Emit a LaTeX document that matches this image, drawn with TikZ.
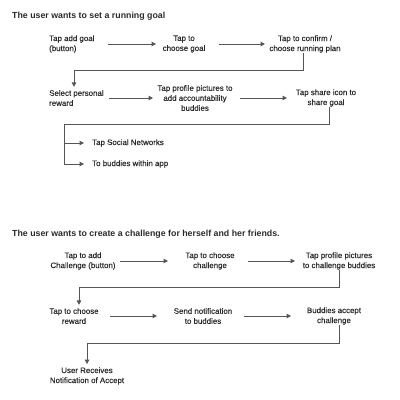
\documentclass[tikz,border=0pt]{standalone}
\usepackage{fontspec}
\setmainfont{Liberation Sans}
\newfontfamily\medfont{Liberation Sans}[FakeBold=0.35]
\usetikzlibrary{arrows.meta}
\definecolor{txt}{HTML}{2A2A2A}
\definecolor{ln}{HTML}{555555}
\tikzset{
  lbl/.style={inner sep=0pt, text=txt, font=\medfont\fontsize{7.9}{10}\selectfont, align=center},
  lbll/.style={lbl, align=left, anchor=west},
  ttl/.style={inner sep=0pt, text=txt, font=\fontsize{8.8}{10}\selectfont\bfseries, anchor=base west},
  ln/.style={draw=ln, line width=1pt},
  arr/.style={ln, -{Triangle[length=4.5pt,width=4.5pt]}},
}
\begin{document}
\begin{tikzpicture}[x=1pt,y=-1pt]
\useasboundingbox (0,0) rectangle (400,400);
% Section 1
\node[ttl] (t1) at (12,18) {The user wants to set a running goal};
\node[lbll] (a1) at (49,44) {Tap add goal\\(button)};
\node[lbl] (a2) at (184,44) {Tap to\\choose goal};
\node[lbl] (a3) at (305,44) {Tap to confirm /\\choose running plan};
\node[lbll] (b1) at (49,98) {Select personal\\reward};
\node[lbl] (b2) at (195,98) {Tap profile pictures to\\add accountability\\buddies};
\node[lbl] (b3) at (326,98) {Tap share icon to\\share goal};
\node[lbll] (c1) at (92,143) {Tap Social Networks};
\node[lbll] (c2) at (92,164) {To buddies within app};
\draw[arr] (a1.east -| 108,0) -- (a2.west -| 156,0);
\draw[arr] (a2.east -| 219,0) -- (a3.west -| 265,0);
\draw[arr] (a3.south -| 303,0) -- (303,70) -| ([yshift=3pt]b1.north -| 74,0);
\draw[arr] (b1.east -| 109,0) -- (b2.west -| 153,0);
\draw[arr] (b2.east -| 240,0) -- (b3.west -| 287,0);
\draw[ln] (b3.south -| 329,0) -- (329,124) -| (64,164);
\draw[arr] (c1.west -| 64,0) -- (c1.west -| 84,0);
\draw[arr] (c2.west -| 64,0) -- (c2.west -| 84,0);
% Section 2
\node[ttl] (t2) at (12,236) {The user wants to create a challenge for herself and her friends.};
\node[lbl] (d1) at (83,261) {Tap to add\\Challenge (button)};
\node[lbl] (d2) at (210,261) {Tap to choose\\challenge};
\node[lbl] (d3) at (339,261) {Tap profile pictures\\to challenge buddies};
\node[lbl] (e1) at (74,316) {Tap to choose\\reward};
\node[lbl] (e2) at (203,316) {Send notification\\to buddies};
\node[lbl] (e3) at (334,316) {Buddies accept\\challenge};
\node[lbl] (f1) at (87,376) {User Receives\\Notification of Accept};
\draw[arr] (d1.east -| 120,0) -- (d2.west -| 168,0);
\draw[arr] (d2.east -| 248,0) -- (d3.west -| 295,0);
\draw[arr] (d3.south -| 339,0) -- (339,287) -| ([yshift=3pt]e1.north -| 79,0);
\draw[arr] (e1.east -| 110,0) -- (e2.west -| 157,0);
\draw[arr] (e2.east -| 244,0) -- (e3.west -| 291,0);
\draw[arr] (e3.south -| 339,0) -- (339,343) -| ([yshift=3pt]f1.north -| 87,0);
\end{tikzpicture}
\end{document}
